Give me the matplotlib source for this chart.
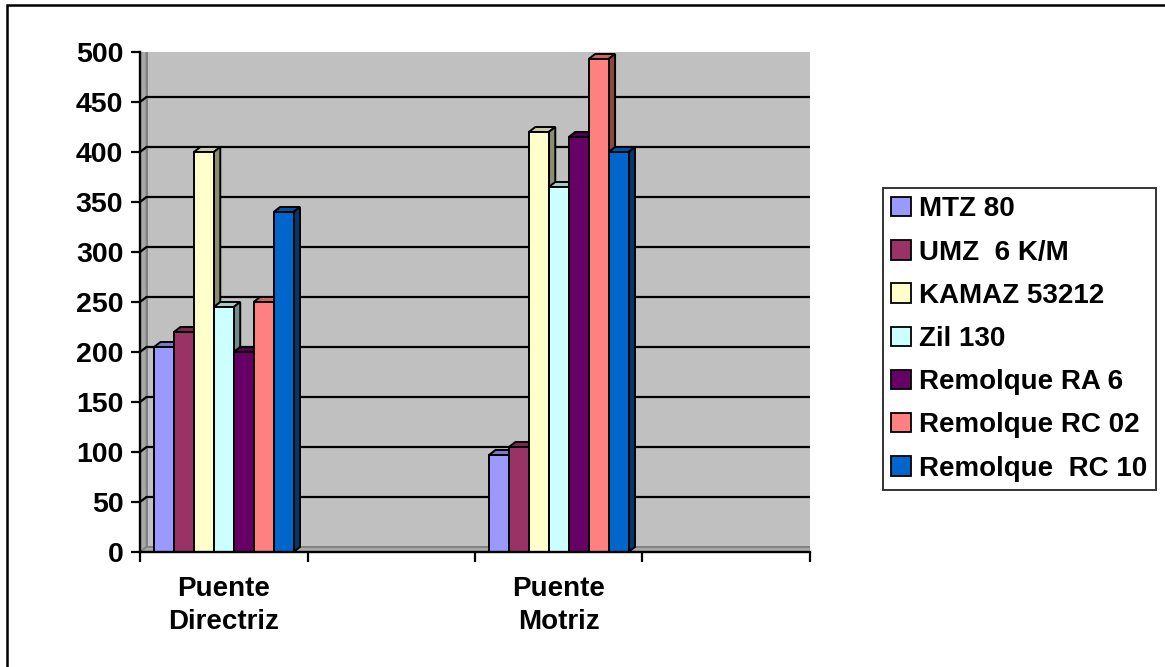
import matplotlib.pyplot as plt
from matplotlib.patches import Patch, Rectangle

plt.rcParams['font.family'] = ['Liberation Sans', 'DejaVu Sans']
plt.rcParams['font.weight'] = 'bold'

# data
categories = ["Puente\nDirectriz", "", "Puente\nMotriz", ""]
series = ["MTZ 80", "UMZ  6 K/M", "KAMAZ 53212", "Zil 130",
          "Remolque RA 6", "Remolque RC 02", "Remolque  RC 10"]
colors = ["#9999FF", "#993366", "#FFFFCC", "#CCFFFF", "#660066", "#FF8080", "#0066CC"]
directriz = [205, 220, 400, 245, 200, 250, 340]
motriz = [97, 105, 420, 365, 415, 493, 400]
values = [directriz, None, motriz, None]
yticks = list(range(0, 501, 50))

W, H = 1165, 667
fig = plt.figure(figsize=(W / 100, H / 100), dpi=100)
ax = fig.add_axes([140 / W, (H - 552) / H, (810 - 140) / W, 500 / H])
ncat = len(categories)
ax.set_xlim(0, ncat)
ax.set_ylim(0, 500)

# depth offset of the 3d look, in data units
ax_w = (810 - 140)
DX = 6.5 * ncat / ax_w
DY = 5.0

def shade(c, f):
    r, g, b = [int(c[i:i + 2], 16) / 255 for i in (1, 3, 5)]
    return (r * f, g * f, b * f)

# walls and floor
ax.add_patch(Rectangle((DX, DY), ncat, 500, transform=ax.transData,
                       facecolor="#C0C0C0", edgecolor="#808080", lw=1.4, zorder=0))
ax.fill([0, DX, DX, 0], [0, DY, 500 + DY, 500], facecolor="#A8A8A8",
        edgecolor="#808080", lw=1.2, zorder=0.5)
ax.fill([0, ncat, ncat + DX, DX], [0, 0, DY, DY], facecolor="#A8A8A8",
        edgecolor="#808080", lw=1.2, zorder=0.5)

for v in yticks[1:-1]:
    ax.plot([0, DX, ncat + DX], [v, v + DY, v + DY], color="black", lw=1.6, zorder=1)
ax.plot([0, DX], [500, 500 + DY], color="#808080", lw=1.4, zorder=1)

# bars
nser = len(series)
bw = 0.119
for i, vals in enumerate(values):
    if vals is None:
        continue
    x0s = [i + 0.5 - nser * bw / 2 + j * bw for j in range(nser)]
    ax.bar(x0s, vals, width=bw, align='edge', color=colors, edgecolor="black",
           lw=1.4, zorder=3)
    for x0, h, c in zip(x0s, vals, colors):
        ax.fill([x0, x0 + bw, x0 + bw + DX, x0 + DX], [h, h, h + DY, h + DY],
                facecolor=shade(c, 0.8), edgecolor="black", lw=1.4, zorder=2)
        ax.fill([x0 + bw, x0 + bw + DX, x0 + bw + DX, x0 + bw], [0, DY, h + DY, h],
                facecolor=shade(c, 0.55), edgecolor="black", lw=1.4, zorder=2)

# axes
for s in ["top", "right"]:
    ax.spines[s].set_visible(False)
ax.spines["left"].set_linewidth(1.7)
ax.spines["bottom"].set_linewidth(1.7)
ax.spines["left"].set_zorder(4)
ax.spines["bottom"].set_zorder(4)
ax.set_facecolor("none")
ax.set_yticks(yticks)
ax.set_yticklabels([str(v) for v in yticks], fontsize=20.5, fontweight='bold')
ax.tick_params(axis='y', direction='out', length=6.5, width=1.6, pad=5.5)
ax.set_xticks(range(ncat + 1))
ax.set_xticklabels([])
ax.tick_params(axis='x', which='major', direction='out', length=7, width=1.6)
ax.set_xticks([i + 0.5 for i in range(ncat)], minor=True)
ax.set_xticklabels(categories, minor=True, fontsize=20, fontweight='bold', linespacing=1.38)
ax.tick_params(axis='x', which='minor', length=0, pad=17)

handles = [Patch(facecolor=c, edgecolor="black", lw=1.3) for c in colors]
leg = fig.legend(handles, series, loc='upper left',
                 bbox_to_anchor=(883 / W, 1 - 188 / H), frameon=True, fancybox=False,
                 prop={'size': 20, 'weight': 'bold'}, handlelength=0.7, handleheight=0.7,
                 handletextpad=0.3, labelspacing=0.62, borderpad=0.3, borderaxespad=0)
leg.get_frame().set_edgecolor("black")
leg.get_frame().set_linewidth(1.4)

# outer chart border
fig.add_artist(Rectangle((7 / W, -0.02), 1.1, 1 - 5 / H + 0.02, transform=fig.transFigure,
                         fill=False, edgecolor="black", lw=1.8))

fig.savefig("out.png", dpi=100)
